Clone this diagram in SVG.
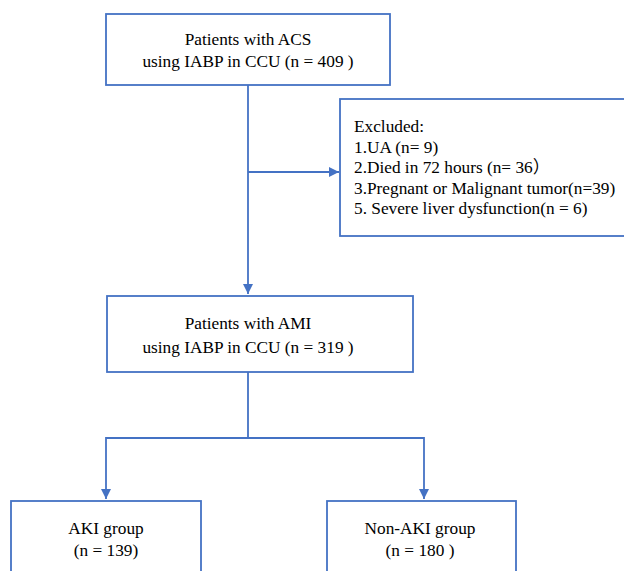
<svg xmlns="http://www.w3.org/2000/svg" width="624" height="571" viewBox="0 0 624 571">
<style>
.box{fill:#fff;stroke:#4472C4;stroke-width:1.8}
.ln{fill:none;stroke:#4472C4;stroke-width:1.8}
.c{text-anchor:middle}
</style>
<defs>
<marker id="ah" viewBox="0 0 10 10" refX="10" refY="5" markerWidth="10" markerHeight="10" markerUnits="userSpaceOnUse" orient="auto">
<path d="M0,0 L10,5 L0,10 Z" fill="#4472C4"/>
</marker>
</defs>
<rect width="624" height="571" fill="#fff"/>
<g id="connectors">
<path class="ln" d="M248,85 V294" marker-end="url(#ah)"/>
<path class="ln" d="M248,172 H339" marker-end="url(#ah)"/>
<path class="ln" d="M248,372 V438 M106,438 H424"/>
<path class="ln" d="M106,437 V499" marker-end="url(#ah)"/>
<path class="ln" d="M424,437 V499" marker-end="url(#ah)"/>
</g>
<g font-family="Liberation Serif, 'Noto Sans CJK SC', serif" font-size="17.3" fill="#000">
<g id="n_acs">
<rect class="box" x="106" y="14" width="284" height="71"/>
<text class="c" x="248" y="45">Patients with ACS</text>
<text class="c" x="248" y="67">using IABP in CCU (n = 409 )</text>
</g>
<g id="n_excluded">
<rect class="box" x="340" y="99" width="292" height="137"/>
<text x="354" y="132">Excluded:</text>
<text x="354" y="152.5">1.UA (n= 9)</text>
<text x="354" y="173">2.Died in 72 hours (n= 36）</text>
<text x="354" y="193.5">3.Pregnant or Malignant tumor(n=39)</text>
<text x="354" y="214">5. Severe liver dysfunction(n = 6)</text>
</g>
<g id="n_ami">
<rect class="box" x="107" y="296" width="306" height="76"/>
<text class="c" x="248" y="329">Patients with AMI</text>
<text class="c" x="248" y="353">using IABP in CCU (n = 319 )</text>
</g>
<g id="n_aki">
<rect class="box" x="11" y="501" width="190" height="80"/>
<text class="c" x="106" y="534">AKI group</text>
<text class="c" x="106" y="556">(n = 139)</text>
</g>
<g id="n_nonaki">
<rect class="box" x="327" y="501" width="189" height="80"/>
<text class="c" x="420" y="534">Non-AKI group</text>
<text class="c" x="420" y="556">(n = 180 )</text>
</g>
</g>
</svg>
